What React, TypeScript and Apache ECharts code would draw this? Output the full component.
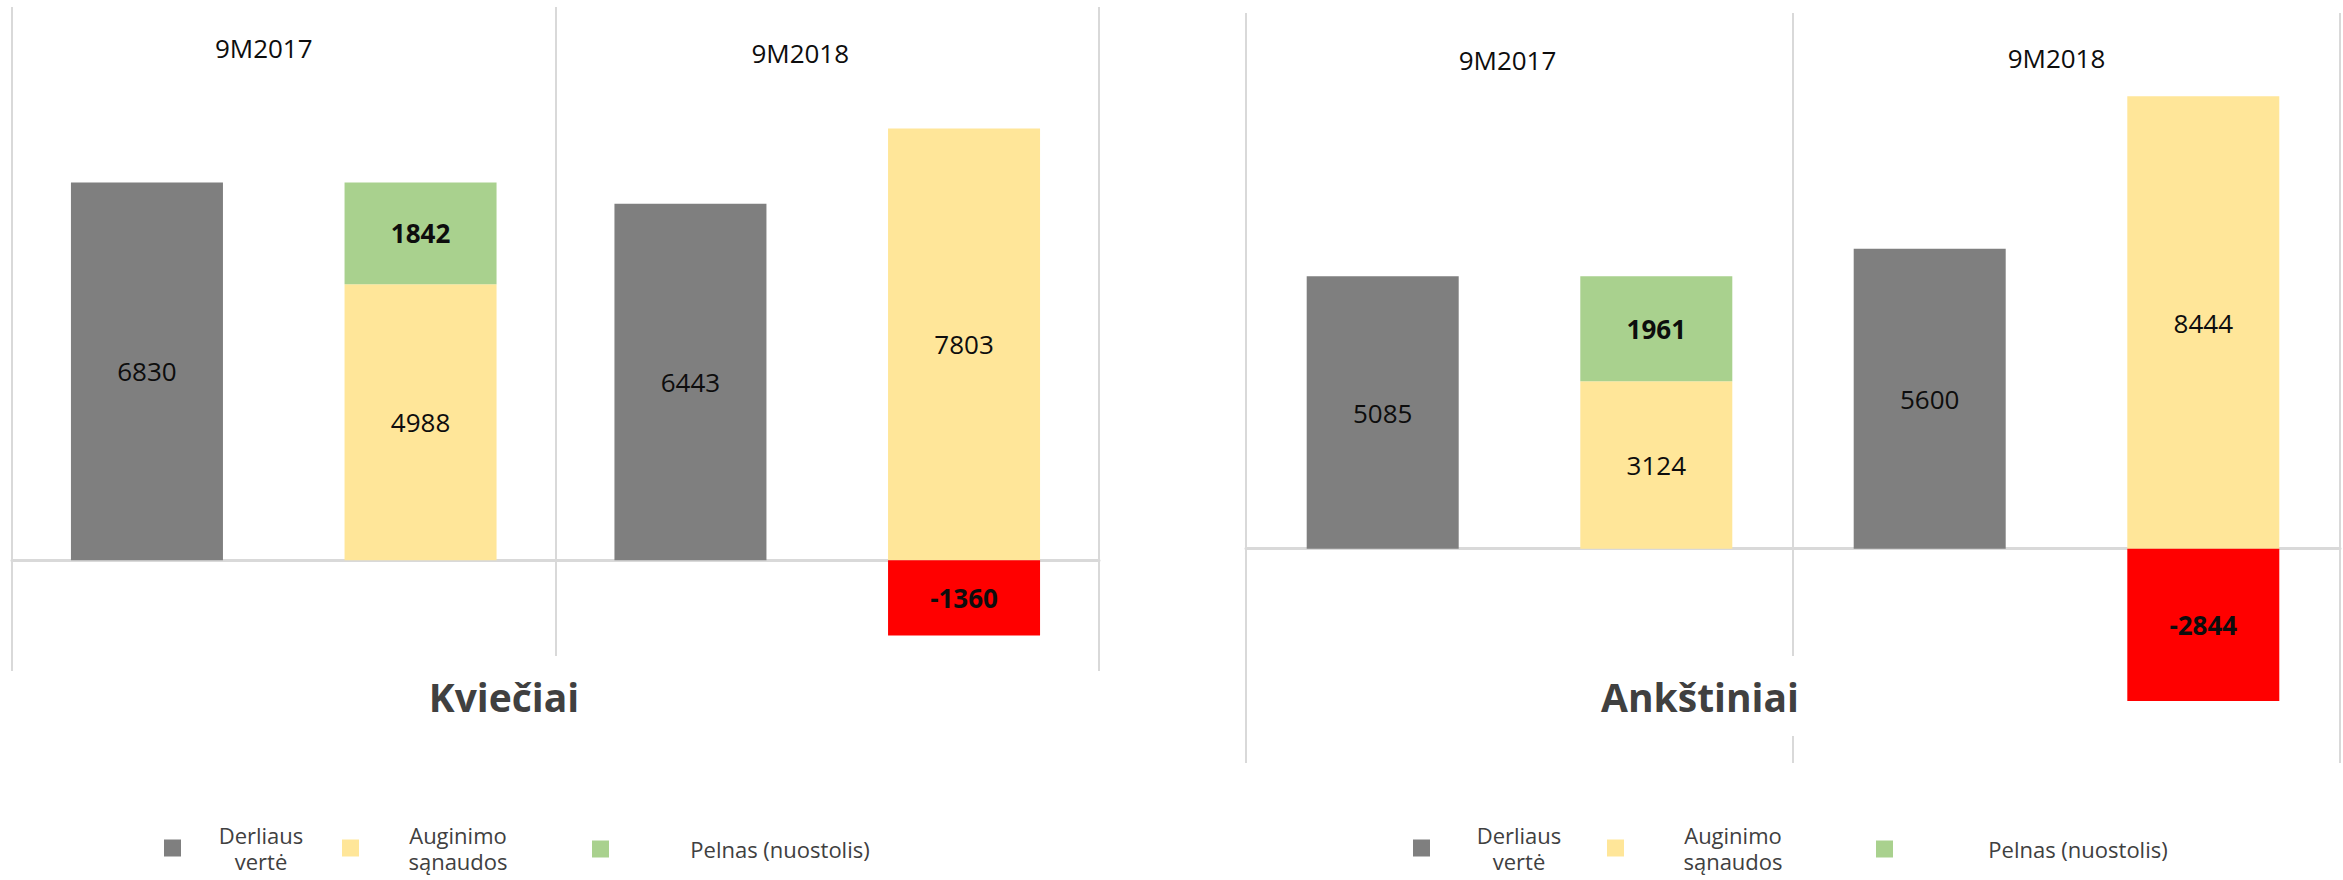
import React, { useEffect, useRef } from "react";
import * as echarts from "echarts";

// ---- Data ----
const periods = ["9M2017", "9M2018"];
const seriesNames = ["Derliaus vertė", "Auginimo sąnaudos", "Pelnas (nuostolis)"];
const legendLines: Record<string, string[]> = {
  "Derliaus vertė": ["Derliaus", "vertė"],
  "Auginimo sąnaudos": ["Auginimo", "sąnaudos"],
  "Pelnas (nuostolis)": ["Pelnas (nuostolis)"],
};
const panelTitles = ["Kviečiai", "Ankštiniai"];

const wheatHarvest = [6830, 6443];
const wheatCosts = [4988, 7803];
const wheatProfit = [1842, -1360];

const pulsesHarvest = [5085, 5600];
const pulsesCosts = [3124, 8444];
const pulsesProfit = [1961, -2844];

// ---- Styles / layout ----
const FONT = '"Open Sans", "Noto Sans", sans-serif';
const C_HARVEST = "#7F7F7F";
const C_COSTS = "#FFE699";
const C_PROFIT = "#A9D18E";
const C_LOSS = "#FF0000";
const C_LINE = "#D9D9D9";
const C_TEXT = "#0D0D0D";
const C_TITLE = "#404040";

const panels = [
  {
    grid: { left: 12, top: 7, width: 1087, height: 664 },
    min: -2000,
    max: 10000,
    harvest: wheatHarvest,
    costs: wheatCosts,
    profit: wheatProfit,
    title: panelTitles[0],
    titleX: 504,
    labelMargin: 26,
    labelShift: [40, 54],
    labelDy: [0, 9],
    legend: [
      { left: 164, center: 261 },
      { left: 342, center: 458 },
      { left: 592, center: 780 },
    ],
  },
  {
    grid: { left: 1246, top: 13, width: 1094, height: 750 },
    min: -4000,
    max: 10000,
    harvest: pulsesHarvest,
    costs: pulsesCosts,
    profit: pulsesProfit,
    title: panelTitles[1],
    titleX: 1700,
    labelMargin: 30,
    labelShift: [24, 20],
    labelDy: [3, 0],
    legend: [
      { left: 1413, center: 1519 },
      { left: 1607, center: 1733 },
      { left: 1876, center: 2078 },
    ],
  },
];

function buildOption() {
  const grid: any[] = [];
  const xAxis: any[] = [];
  const yAxis: any[] = [];
  const series: any[] = [];
  const legend: any[] = [];
  const graphic: any[] = [];

  panels.forEach((p, i) => {
    grid.push({ ...p.grid, containLabel: false });
    // bottom axis: zero line + vertical separators
    xAxis.push({
      type: "category",
      gridIndex: i,
      data: periods,
      position: "bottom",
      axisLine: { show: true, onZero: true, lineStyle: { color: C_LINE, width: 3 } },
      axisTick: { show: false },
      axisLabel: { show: false },
      splitLine: { show: true, lineStyle: { color: C_LINE, width: 2 } },
    });
    // top axis: period labels
    xAxis.push({
      type: "category",
      gridIndex: i,
      data: periods,
      position: "top",
      axisLine: { show: false, onZero: false },
      axisTick: { show: false },
      splitLine: { show: false },
      axisLabel: {
        show: true,
        inside: true,
        margin: p.labelMargin,
        formatter: (v: string, idx: number) => `{c${idx}|${v}}`,
        rich: {
          c0: {
            fontSize: 26,
            lineHeight: 30,
            color: C_TEXT,
            fontFamily: FONT,
            padding: [p.labelDy[0], p.labelShift[0], 0, 0],
          },
          c1: {
            fontSize: 26,
            lineHeight: 30,
            color: C_TEXT,
            fontFamily: FONT,
            padding: [p.labelDy[1], p.labelShift[1], 0, 0],
          },
        },
      },
    });
    yAxis.push({ type: "value", gridIndex: i, min: p.min, max: p.max, show: false });

    const xIdx = i * 2;
    const label = {
      show: true,
      position: "inside",
      fontSize: 26,
      fontFamily: FONT,
      color: C_TEXT,
    };
    series.push({
      name: seriesNames[0],
      type: "bar",
      xAxisIndex: xIdx,
      yAxisIndex: i,
      stack: "harvest" + i,
      barWidth: 152,
      barGap: "80%",
      data: p.harvest,
      itemStyle: { color: C_HARVEST },
      label,
    });
    series.push({
      name: seriesNames[1],
      type: "bar",
      xAxisIndex: xIdx,
      yAxisIndex: i,
      stack: "cost" + i,
      barWidth: 152,
      barGap: "80%",
      data: p.costs,
      itemStyle: { color: C_COSTS },
      label,
    });
    series.push({
      name: seriesNames[2],
      type: "bar",
      xAxisIndex: xIdx,
      yAxisIndex: i,
      stack: "cost" + i,
      barWidth: 152,
      barGap: "80%",
      data: p.profit.map((v) => ({
        value: v,
        itemStyle: { color: v >= 0 ? C_PROFIT : C_LOSS },
      })),
      itemStyle: { color: C_PROFIT },
      label: { ...label, fontWeight: "bold" },
    });

    // legends
    p.legend.forEach((lg, k) => {
      const name = seriesNames[k];
      const lines = legendLines[name];
      const w = 2 * (lg.center - (lg.left + 17 + 5));
      legend.push({
        data: [name],
        left: lg.left,
        top: lines.length > 1 ? 824 : 838,
        padding: 0,
        itemWidth: 17,
        itemHeight: 17,
        icon: "rect",
        selectedMode: false,
        formatter: () => lines.map((l) => `{t|${l}}`).join("\n"),
        textStyle: {
          rich: {
            t: {
              width: w,
              align: "center",
              fontSize: 22,
              lineHeight: 26,
              color: C_TITLE,
              fontFamily: FONT,
            },
          },
        },
      });
    });

    // panel title (white box covers separator lines)
    graphic.push({
      type: "text",
      x: p.titleX,
      y: 696,
      z: 100,
      style: {
        text: p.title,
        fontSize: 39,
        fontWeight: "bold",
        fontFamily: FONT,
        lineHeight: 40,
        fill: C_TITLE,
        align: "center",
        verticalAlign: "middle",
        backgroundColor: "#FFFFFF",
        padding: [24, 10, 16, 10],
      },
    });
  });

  return {
    animation: false,
    backgroundColor: "#FFFFFF",
    textStyle: { fontFamily: FONT },
    grid,
    xAxis,
    yAxis,
    series,
    legend,
    graphic,
  };
}

export default function App() {
  const ref = useRef<HTMLDivElement>(null);
  useEffect(() => {
    document.body.style.margin = "0";
    if (!ref.current) return;
    const chart = echarts.init(ref.current, undefined, { renderer: "svg" });
    chart.setOption(buildOption() as any);
    return () => chart.dispose();
  }, []);
  return (
    <div
      ref={ref}
      style={{ position: "fixed", left: 0, top: 0, width: 2343, height: 880 }}
    />
  );
}
